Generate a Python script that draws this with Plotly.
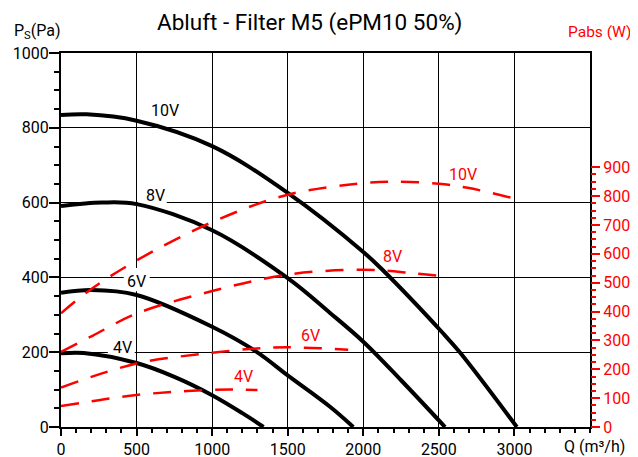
import plotly.graph_objects as go

# Pressure curves (Pa) vs flow Q (m3/h)
q_10v = [0, 170, 500, 1000, 1500, 2000, 2130, 2520, 2640, 3016]
p_10v = [834, 836, 819, 751, 626, 468, 419, 254, 199, 0]
q_8v = [0, 270, 500, 1000, 1500, 1780, 2000, 2250, 2541]
p_8v = [591, 600, 596, 526, 398, 305, 228, 125, 0]
q_6v = [0, 200, 500, 1000, 1294, 1500, 1780, 1934]
p_6v = [359, 366, 353, 268, 201, 138, 54, 0]
q_4v = [0, 150, 500, 750, 1000, 1200, 1340]
p_4v = [197, 198, 171, 134, 85, 37, 0]

# Absorbed power curves (W) vs flow Q
q_w10 = [0, 190, 500, 1000, 1500, 2000, 2220, 2500, 2690, 2990]
w_10 = [394, 474, 577, 710, 805, 845, 850, 843, 829, 793]
q_w8 = [0, 212, 500, 1000, 1500, 2000, 2330, 2550]
w_8 = [260, 317, 393, 471, 528, 545, 533, 521]
q_w6 = [0, 500, 1000, 1294, 1500, 1900]
w_6 = [137, 220, 257, 272, 276, 268]
q_w4 = [0, 250, 500, 750, 1000, 1150, 1300]
w_4 = [73, 93, 111, 122, 129, 130, 128]

x_ticks = [0, 500, 1000, 1500, 2000, 2500, 3000]
y_ticks = [0, 200, 400, 600, 800, 1000]
y2_ticks = [0, 100, 200, 300, 400, 500, 600, 700, 800, 900]
y2_minor = [v for v in range(25, 900, 25) if v % 100 != 0]

FONT = "Roboto"
RED = "#ff0000"

fig = go.Figure()

for q, p in [(q_10v, p_10v), (q_8v, p_8v), (q_6v, p_6v), (q_4v, p_4v)]:
    fig.add_trace(go.Scatter(x=q, y=p, mode="lines", line=dict(color="black", width=4, shape="spline"),
                             showlegend=False, hoverinfo="skip"))

for q, w in [(q_w10, w_10), (q_w8, w_8), (q_w6, w_6), (q_w4, w_4)]:
    fig.add_trace(go.Scatter(x=q, y=w, yaxis="y2", mode="lines",
                             line=dict(color=RED, width=2.5, shape="spline", dash="18px,13px"),
                             showlegend=False, hoverinfo="skip"))

# label backgrounds (hide grid lines behind labels)
for x0, x1, y0, y1 in [(508, 700, 594, 640), (415, 587, 363, 425), (310, 488, 184, 232)]:
    fig.add_shape(type="rect", x0=x0, x1=x1, y0=y0, y1=y1, xref="x", yref="y",
                  fillcolor="white", line=dict(width=0), layer="between")

black_labels = [("10V", 687, 846), ("8V", 624, 618), ("6V", 497, 389), ("4V", 405, 213)]
for t, x, y in black_labels:
    fig.add_annotation(text=t, x=x, y=y, xref="x", yref="y", showarrow=False,
                       xanchor="center", yanchor="middle",
                       font=dict(family=FONT, size=16, color="black"))

red_labels = [("10V", 2662, 875), ("8V", 2193, 590), ("6V", 1654, 316), ("4V", 1210, 176)]
for t, x, y in red_labels:
    fig.add_annotation(text=t, x=x, y=y, xref="x", yref="y2", showarrow=False,
                       xanchor="center", yanchor="middle",
                       font=dict(family=FONT, size=16, color=RED))

fig.add_annotation(text="Abluft - Filter M5 (ePM10 50%)", x=0.4695, y=1.081, xref="paper", yref="paper",
                   xanchor="center", yanchor="middle",
                   showarrow=False, font=dict(family=FONT, size=22.5, color="black"))
fig.add_annotation(text="P<sub>S</sub>(Pa)", x=-0.0919, y=1.058, xref="paper", yref="paper",
                   xanchor="left", yanchor="middle", showarrow=False,
                   font=dict(family=FONT, size=16, color="black"))
fig.add_annotation(text="Pabs (W)", x=1.0185, y=1.0554, xref="paper", yref="paper",
                   xanchor="center", yanchor="middle",
                   showarrow=False, font=dict(family=FONT, size=15.5, color=RED))
fig.add_annotation(text="Q (m³/h)", x=1.0076, y=-0.0517, xref="paper", yref="paper",
                   xanchor="center", yanchor="middle",
                   showarrow=False, font=dict(family=FONT, size=16, color="black"))

# The page body adds an 8px offset; the figure is sized so the visible 638x457
# window shows the plot area at the reference position.
fig.update_layout(
    width=638, height=457,
    margin=dict(l=53, r=56, t=45, b=38, pad=0, autoexpand=False),
    paper_bgcolor="white", plot_bgcolor="white",
    font=dict(family=FONT, size=16, color="black"),
    xaxis=dict(range=[0, 3500], tickmode="array", tickvals=x_ticks, ticks="outside", ticklen=7,
               tickwidth=1.5, tickcolor="black", showgrid=True, gridcolor="black", gridwidth=1,
               showline=True, linecolor="black", linewidth=2, mirror=True, zeroline=False,
               automargin=False,
               minor=dict(dtick=100, tick0=0, ticks="outside", ticklen=4, tickwidth=1.5,
                          tickcolor="black", showgrid=False),
               tickfont=dict(family=FONT, size=16, color="black")),
    yaxis=dict(range=[0, 1000], tickmode="array", tickvals=y_ticks, ticks="outside", ticklen=10,
               tickwidth=1.5, tickcolor="black", showgrid=True, gridcolor="black", gridwidth=1,
               showline=True, linecolor="black", linewidth=2, mirror=True, zeroline=False,
               automargin=False, ticklabelstandoff=-3,
               minor=dict(dtick=50, tick0=0, ticks="outside", ticklen=5, tickwidth=1.5,
                          tickcolor="black", showgrid=False),
               tickfont=dict(family=FONT, size=16, color="black")),
    yaxis2=dict(range=[0, 1296], overlaying="y", side="right", tickmode="array", tickvals=y2_ticks,
                ticks="outside", ticklen=9, tickwidth=2, tickcolor=RED, showgrid=False,
                showline=False, zeroline=False, automargin=False,
                minor=dict(tickmode="array", tickvals=y2_minor, ticks="outside", ticklen=5,
                           tickwidth=2, tickcolor=RED, showgrid=False),
                tickfont=dict(family=FONT, size=16, color=RED)),
)

fig.write_html("out.html")
